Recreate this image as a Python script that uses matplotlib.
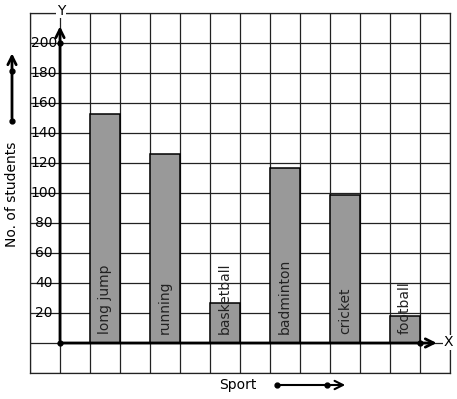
import matplotlib
matplotlib.use("Agg")
import matplotlib.pyplot as plt
import numpy as np

# data
sports = ["long jump", "running", "basketball", "badminton", "cricket", "football"]
students = [153, 126, 27, 117, 99, 18]
bar_pos = [1.5, 3.5, 5.5, 7.5, 9.5, 11.5]
y_ticks = [20, 40, 60, 80, 100, 120, 140, 160, 180, 200]

W, H = 457, 399
fig = plt.figure(figsize=(W / 100, H / 100), dpi=100)
# grid paper spans pixels x 30..450, y 13..373; 1 cell = 30 px = 1 x-unit = 20 students
ax = fig.add_axes([30 / W, (H - 373) / H, 420 / W, 360 / H])
ax.set_xlim(-1, 13)
ax.set_ylim(-20, 220)
ax.set_xticks(np.arange(-1, 14))
ax.set_yticks(np.arange(-20, 221, 20))
ax.grid(True, color="#222222", lw=0.9)
ax.tick_params(length=0, labelbottom=False, labelleft=False)
for s in ax.spines.values():
    s.set_color("#222222")
    s.set_linewidth(0.9)
ax.set_axisbelow(True)

ax.bar(bar_pos, students, width=1, color="#999999", edgecolor="black", lw=1.1, zorder=3)
for x, name in zip(bar_pos, sports):
    ax.text(x, 6, name, rotation=90, ha="center", va="bottom", fontsize=10,
            color="#222222", zorder=4)

for v in y_ticks:
    ax.text(-0.53, v, str(v), ha="center", va="center", fontsize=10, zorder=4)

# axes with arrows
ax.annotate("", xy=(0, 213), xytext=(0, 0),
            arrowprops=dict(arrowstyle="->,head_length=0.6,head_width=0.3", lw=2, color="black"),
            zorder=5, annotation_clip=False)
ax.annotate("", xy=(12.65, 0), xytext=(0, 0),
            arrowprops=dict(arrowstyle="->,head_length=0.6,head_width=0.3", lw=2, color="black"),
            zorder=5, annotation_clip=False)
ax.plot([0, 0, 12], [0, 200, 0], "o", color="black", ms=3.5, zorder=6)
ax.text(0.03, 221.5, "Y", ha="center", va="center", fontsize=10,
        bbox=dict(facecolor="white", edgecolor="none", pad=0.5), zorder=6, clip_on=False)
ax.text(12.95, 0.5, "X", ha="center", va="center", fontsize=10,
        bbox=dict(facecolor="white", edgecolor="none", pad=0.3), zorder=6, clip_on=False)

# side annotations
ax.text(-1.6, 99, "No. of students", rotation=90, ha="center", va="center",
        fontsize=10, clip_on=False)
ax.annotate("", xy=(-1.6, 195), xytext=(-1.6, 148),
            arrowprops=dict(arrowstyle="->,head_length=0.6,head_width=0.3", lw=2, color="black"),
            annotation_clip=False)
ax.plot([-1.6, -1.6], [148, 181.3], "o", color="black", ms=3.5, clip_on=False)

ax.text(5.93, -28, "Sport", ha="center", va="center", fontsize=10, clip_on=False)
ax.annotate("", xy=(9.6, -28), xytext=(7.23, -28),
            arrowprops=dict(arrowstyle="->,head_length=0.6,head_width=0.3", lw=1.5, color="black"),
            annotation_clip=False)
ax.plot([7.23, 8.9], [-28, -28], "o", color="black", ms=3.5, clip_on=False)

fig.savefig("out.png", dpi=100)
